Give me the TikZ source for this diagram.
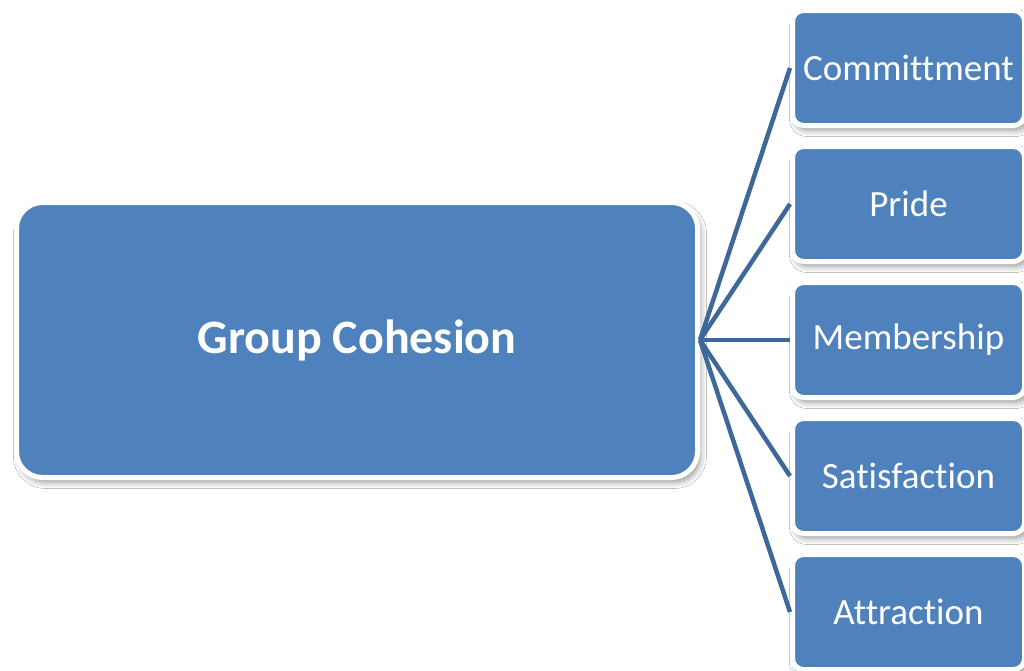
\documentclass[tikz,border=0pt]{standalone}
\usepackage{fontspec}
\setmainfont{Carlito}[Ligatures=NoCommon]
\usetikzlibrary{shadows.blur}
\definecolor{boxblue}{HTML}{4F81BD}
\definecolor{linkblue}{HTML}{3D6899}
\tikzset{
  card/.style={draw=white, line width=5pt, fill=boxblue, text=white,
    blur shadow={shadow xshift=3pt, shadow yshift=-5pt, shadow blur radius=6pt, shadow opacity=40}},
  hub/.style={card, rounded corners=26pt, minimum width=681pt, minimum height=275pt,
    font=\fontsize{48}{56}\selectfont\bfseries},
  leaf/.style={card, rounded corners=11pt, minimum width=232pt, minimum height=115pt,
    font=\fontsize{37}{44}\selectfont},
  link/.style={draw=linkblue, line width=4.5pt}
}
\begin{document}
\begin{tikzpicture}[x=1pt, y=-1pt]
  \useasboundingbox (0,0) rectangle (1024,670);
  \fill[white] (0,0) rectangle (1024,670);
  \node[hub] (main) at (357,340) {Group Cohesion};
  \node[leaf] (c) at (908.5,68) {Committment};
  \node[leaf] (p) at (908.5,204) {Pride};
  \node[leaf] (m) at (908.5,340) {Membership};
  \node[leaf] (s) at (908.5,476) {Satisfaction};
  \node[leaf] (a) at (908.5,612) {Attraction};
  \foreach \n in {c,p,m,s,a}
    \draw[link] (main.east) -- (\n.west);
\end{tikzpicture}
\end{document}
